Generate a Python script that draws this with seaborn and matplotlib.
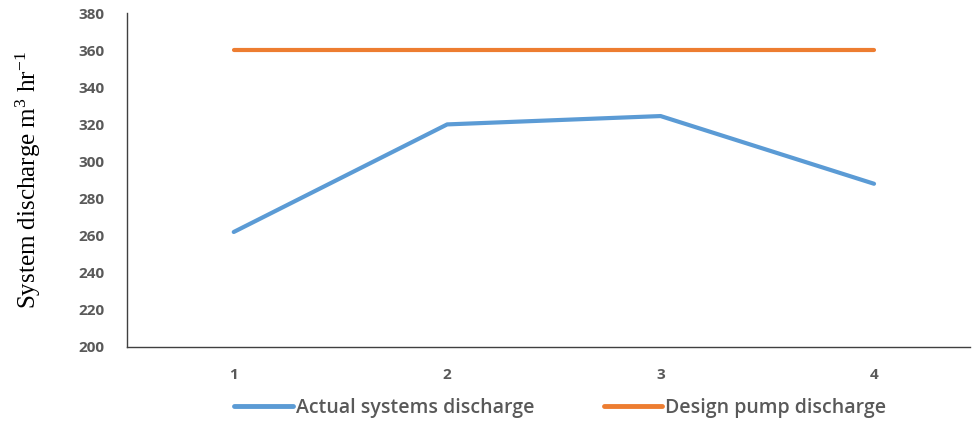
import matplotlib
matplotlib.use("Agg")
import matplotlib.pyplot as plt
import seaborn as sns
import pandas as pd

# Discharge readings per measurement site
sites = [1, 2, 3, 4]
actual_discharge = [262, 320, 324.5, 288]
design_discharge = [360, 360, 360, 360]
series_names = ["Actual systems discharge", "Design pump discharge"]
y_ticks = [200, 220, 240, 260, 280, 300, 320, 340, 360, 380]

df = pd.DataFrame({
    "site": sites * 2,
    "discharge": actual_discharge + design_discharge,
    "series": [series_names[0]] * len(sites) + [series_names[1]] * len(sites),
})

sns.set_style("white")
plt.rcParams["font.family"] = ["Open Sans", "DejaVu Sans"]
plt.rcParams["mathtext.fontset"] = "custom"
plt.rcParams["mathtext.rm"] = "Liberation Serif"

fig = plt.figure(figsize=(9.72, 4.23), dpi=100)
ax = fig.add_axes([0.1307, 0.1797, 0.8673, 0.7893])

sns.lineplot(
    data=df, x="site", y="discharge", hue="series",
    palette=["#5B9BD5", "#ED7D31"], linewidth=3.0, ax=ax,
    legend=True,
)
for line in ax.lines:
    line.set_solid_capstyle("round")
    line.set_solid_joinstyle("round")

ax.set_xlim(0.5, 4.45)
ax.set_ylim(200, 380)
ax.set_xticks(sites)
ax.set_yticks(y_ticks)
ax.set_xticklabels([str(s) for s in sites])
ax.tick_params(axis="both", length=0, labelsize=11, labelcolor="#595959")
ax.tick_params(axis="x", pad=15)
ax.tick_params(axis="y", pad=16)
for lbl in ax.get_xticklabels() + ax.get_yticklabels():
    lbl.set_fontweight("bold")

for side in ["top", "right"]:
    ax.spines[side].set_visible(False)
for side in ["left", "bottom"]:
    ax.spines[side].set_color("#404040")
    ax.spines[side].set_linewidth(1.0)

ax.set_xlabel("")
ax.set_ylabel(r"System discharge m$\mathregular{^{3}}$ hr$\mathregular{^{-1}}$",
              fontfamily="Liberation Serif", fontsize=18, color="#000000")
ax.yaxis.set_label_coords(-0.100, 0.5)

handles, labels = ax.get_legend_handles_labels()
leg = ax.legend(
    handles, labels, loc="center", bbox_to_anchor=(0.514, -0.183),
    ncol=2, frameon=False, handlelength=3.0, handletextpad=0.15,
    columnspacing=3.6, prop={"family": "Open Sans", "size": 14, "weight": "semibold"},
)
for t in leg.get_texts():
    t.set_color("#595959")
for h in leg.get_lines():
    h.set_linewidth(3.5)

fig.savefig("out.png", dpi=100)
